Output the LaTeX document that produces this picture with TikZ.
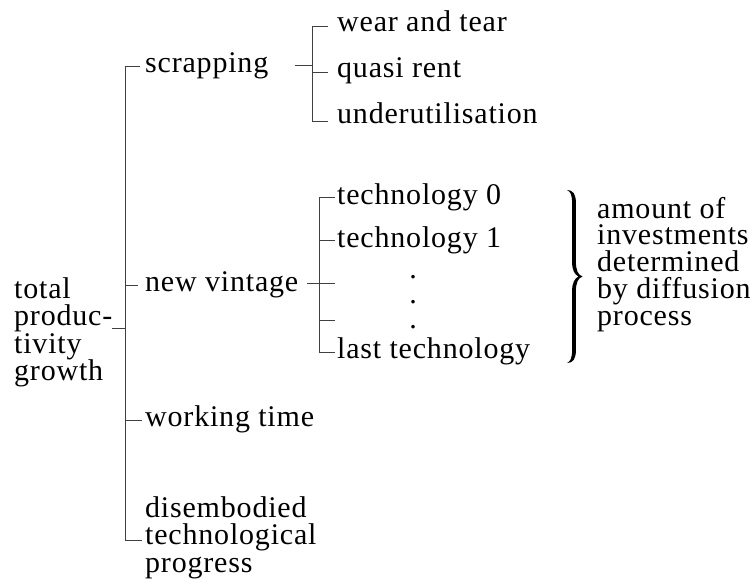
\documentclass[tikz,border=0pt]{standalone}
\usepackage{fontspec}
\setmainfont{Liberation Serif}[LetterSpace=2.7]
\begin{document}
\begin{tikzpicture}[x=1pt,y=-1pt,
  lbl/.style={anchor=base west,inner sep=0pt,font=\fontsize{30}{27.5}\selectfont},
  blk/.style={lbl,align=left},
  conn/.style={draw=black!75,line width=0.8pt}]
\useasboundingbox (0,0) rectangle (750,581);

% root (multi-line nodes sit on the baseline of their last line)
\node[blk] (total) at (14,380.5) {total\\produc-\\tivity\\growth};
\coordinate (rootend) at (112,328);
\coordinate (spine) at (125,328);
\draw[conn] (rootend) -- (spine);

% main branches
\node[lbl] (scrap) at (145,72) {scrapping};
\node[lbl] (newv) at (145,291) {new vintage};
\node[lbl] (work) at (145,426) {working time};
\node[blk] (disemb) at (145,572) {disembodied\\technological\\progress};

\coordinate (sT) at (125,66);
\coordinate (sB) at (125,540);
\draw[conn] (140,66) -- (sT) -- (sB) -- (142,540);
\draw[conn] (125,285) -- (138,285);
\draw[conn] (125,420) -- (142,420);

% scrapping causes
\node[lbl] (wear) at (337,31) {wear and tear};
\node[lbl] (quasi) at (337,77) {quasi rent};
\node[lbl] (under) at (337,123) {underutilisation};
\coordinate (scrapj) at (312,65);
\draw[conn] (295,65) -- (scrapj);
\draw[conn] (328,26) -- (312,26) -- (312,121) -- (328,121);
\draw[conn] (312,72) -- (328,72);

% technologies of the new vintage
\node[lbl] (tech0) at (337,204) {technology 0};
\node[lbl] (tech1) at (337,247) {technology 1};
\node[anchor=base,inner sep=0pt,align=center,font=\fontsize{30}{25}\selectfont] (dots) at (413,328) {.\\.\\.};
\node[lbl] (techL) at (337,358) {last technology};
\coordinate (newj) at (319,283);
\draw[conn] (307,283) -- (335,283);
\draw[conn] (335,197) -- (319,197) -- (319,352) -- (335,352);
\draw[conn] (319,240) -- (335,240);
\draw[conn] (319,320) -- (335,320);

% diffusion brace, filled so that its stems are thick and its ends taper
\fill[black] (567,190)
  .. controls (573,190) and (575.9,194) .. (575.9,203) -- (575.9,262)
  .. controls (575.9,270) and (578,275) .. (582.5,276.5)
  .. controls (578,278) and (575.9,283) .. (575.9,291) -- (575.9,350)
  .. controls (575.9,359) and (573,363) .. (567,363)
  .. controls (570.5,361.5) and (572.1,358) .. (572.1,350) -- (572.1,291)
  .. controls (572.1,283) and (574.5,278.5) .. (578.5,276.5)
  .. controls (574.5,274.5) and (572.1,270) .. (572.1,262) -- (572.1,203)
  .. controls (572.1,195) and (570.5,191.5) .. (567,190) -- cycle;
\node[blk,font=\fontsize{30}{26.7}\selectfont] (amount) at (597,325) {amount of\\investments\\determined\\by diffusion\\process};
\end{tikzpicture}
\end{document}
